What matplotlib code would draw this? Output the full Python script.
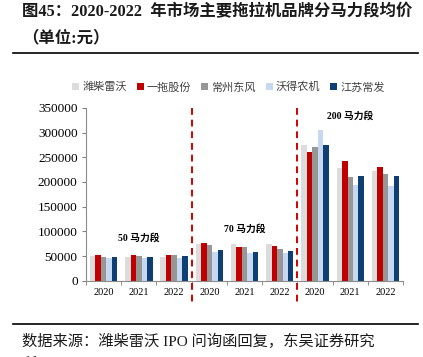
import numpy as np
import matplotlib
matplotlib.use('Agg')
import matplotlib.pyplot as plt
from matplotlib.transforms import blended_transform_factory

plt.rcParams['font.family'] = ['Liberation Serif', 'Noto Sans CJK SC', 'DejaVu Sans']

# data (yuan)
years = ['2020', '2021', '2022'] * 3
segments = ['50 马力段', '70 马力段', '200 马力段']
brands = ['潍柴雷沃', '一拖股份', '常州东风', '沃得农机', '江苏常发']
weichai = [49500, 48700, 48700, 75000, 74500, 75000, 275500, 228000, 223000]
yituo = [52000, 51500, 52500, 77000, 68400, 70400, 261000, 242000, 230000]
changzhou = [48700, 51000, 52500, 72000, 67800, 64400, 270800, 210000, 216600]
wode = [46700, 46000, 45500, 59000, 57000, 57000, 306000, 193000, 191000]
changfa = [47500, 47500, 49500, 63000, 59000, 61000, 274000, 212500, 212500]
colors = ['#dcdcdc', '#c00000', '#979797', '#c6d9f0', '#0d3f74']

series = [weichai, yituo, changzhou, wode, changfa]

fig = plt.figure(figsize=(4.23, 3.57), dpi=100)
ax = fig.add_axes([0.2033, 0.2135, 0.7497, 0.4843])

x = np.arange(len(years))
w = 0.155
for j, (vals, name, c) in enumerate(zip(series, brands, colors)):
    ax.bar(x + (j - 2) * w, vals, width=w, color=c, label=name, zorder=2)

ax.set_xlim(-0.5, len(years) - 0.5)
ax.set_ylim(0, 350000)
ax.set_yticks(np.arange(0, 350001, 50000))
ax.set_yticklabels([str(v) for v in range(0, 350001, 50000)], fontsize=9.5)
ax.set_xticks(x)
ax.set_xticklabels(years, fontsize=7.5)
ax.set_xticks(np.arange(-0.5, len(years), 1), minor=True)
ax.tick_params(axis='x', which='major', length=0, pad=5)
ax.tick_params(axis='x', which='minor', length=3, color='#808080')
ax.tick_params(axis='y', length=3, color='#808080', pad=3)

for s in ['top', 'right']:
    ax.spines[s].set_visible(False)
ax.spines['left'].set_color('#8c8c8c')
ax.spines['bottom'].set_color('#8c8c8c')

# dashed separators between horsepower segments
trans = blended_transform_factory(ax.transData, ax.transAxes)
for xs in [2.5, 5.5]:
    ax.plot([xs, xs], [1.0, -0.12], transform=trans, color='#d00000',
            lw=1.4, ls=(0, (3.5, 2.5)), clip_on=False, zorder=3)

# segment labels
seg_pos = [(1, 87000), (4, 105000), (7, 333000)]
for (px, py), lab in zip(seg_pos, segments):
    ax.text(px, py, lab, ha='center', va='center', fontsize=7, fontweight='bold')

ax.legend(loc='center', bbox_to_anchor=(0.45, 1.12), ncol=5, frameon=False,
          fontsize=8, handlelength=0.6, handleheight=0.6, handletextpad=0.3,
          columnspacing=0.9, borderaxespad=0, labelcolor='#404040')

# title and footer
fig.text(0.052, 0.965, '图45：2020-2022  年市场主要拖拉机品牌分马力段均价',
         fontsize=11.8, fontweight='bold', va='center', color='#1a1a1a')
fig.text(0.052, 0.893, '（单位:元）', fontsize=11.8, fontweight='bold',
         va='center', color='#1a1a1a')
fig.add_artist(plt.Line2D([0.03, 0.987], [0.851, 0.851], color='black', lw=1.2))
fig.add_artist(plt.Line2D([0.03, 0.987], [0.092, 0.092], color='black', lw=1.2))
fig.text(0.052, 0.045, '数据来源：潍柴雷沃 IPO 问询函回复，东吴证券研究',
         fontsize=11, va='center', color='#1a1a1a')
fig.text(0.052, -0.022, '所', fontsize=11, va='center', color='#1a1a1a')

fig.savefig('out.png', dpi=100)
